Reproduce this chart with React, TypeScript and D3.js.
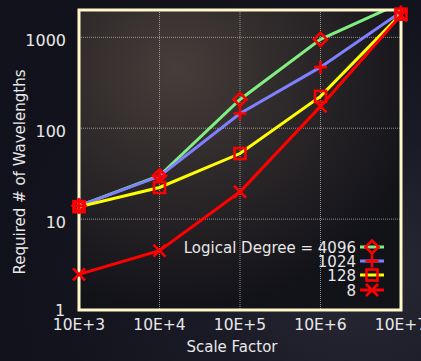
import React from "react";
import * as d3 from "d3";

const xValues = [1e3, 1e4, 1e5, 1e6, 1e7];
const xTickLabels = ["10E+3", "10E+4", "10E+5", "10E+6", "10E+7"];
const yTicks = [1, 10, 100, 1000];
const seriesNames = ["4096", "1024", "128", "8"];
const deg4096 = [14, 30, 207, 950, 2400];
const deg1024 = [14, 29.6, 145, 470, 1900];
const deg128 = [13.7, 22.3, 52.7, 224, 1800];
const deg8 = [2.47, 4.5, 20, 174, 1750];
const seriesColors = ["#80ee80", "#8080ff", "#ffff00", "#ff0000"];
const seriesMarkers = ["diamond", "plus", "square", "cross"];

const W = 421, H = 361;
const M = { left: 79, right: 401, top: 10, bottom: 310 };

function Marker({ type, x, y }: { type: string; x: number; y: number }) {
  const c = "#ff0000";
  const sw = 2.6;
  if (type === "diamond") {
    const r = 6.5;
    return <path d={`M${x},${y - r}L${x + r},${y}L${x},${y + r}L${x - r},${y}Z`} fill="none" stroke={c} strokeWidth={sw} />;
  }
  if (type === "plus") {
    const r = 6.5;
    return <path d={`M${x - r},${y}H${x + r}M${x},${y - r}V${y + r}`} stroke={c} strokeWidth={sw} />;
  }
  if (type === "square") {
    const r = 5.5;
    return <rect x={x - r} y={y - r} width={2 * r} height={2 * r} fill="none" stroke={c} strokeWidth={sw} />;
  }
  const r = 6;
  return <path d={`M${x - r},${y - r}L${x + r},${y + r}M${x - r},${y + r}L${x + r},${y - r}`} stroke={c} strokeWidth={sw} />;
}

export default function App() {
  const x = d3.scaleLog().domain([1e3, 1e7]).range([M.left, M.right]);
  const y = d3.scaleLog().domain([1, 2000]).range([M.bottom, M.top]);
  const data = [deg4096, deg1024, deg128, deg8];
  const line = d3.line<number>().x((_, i) => x(xValues[i])).y((d) => y(d));
  const font = "'DejaVu Sans', sans-serif";
  const textColor = "#e8e8e8";
  const legendY = [247, 261, 275, 290];

  return (
    <svg width={W} height={H} style={{ position: "absolute", left: 0, top: 0 }} fontFamily={font}>
      <defs>
        <radialGradient id="bg" cx="0.85" cy="0.75" r="0.8">
          <stop offset="0" stopColor="#2a2a36" />
          <stop offset="0.5" stopColor="#1a1a26" />
          <stop offset="1" stopColor="#12121c" />
        </radialGradient>
        <radialGradient id="plotbg" cx="0.3" cy="0.2" r="0.8">
          <stop offset="0" stopColor="#463e3a" />
          <stop offset="0.45" stopColor="#2e292a" />
          <stop offset="1" stopColor="#121219" />
        </radialGradient>
        <clipPath id="clip">
          <rect x={M.left} y={M.top} width={M.right - M.left} height={M.bottom - M.top} />
        </clipPath>
      </defs>
      <rect width={W} height={H} fill="url(#bg)" />
      <rect x={M.left} y={M.top} width={M.right - M.left} height={M.bottom - M.top} fill="url(#plotbg)" />
      {/* grid */}
      {yTicks.slice(1).map((t) => (
        <line key={"gy" + t} x1={M.left} x2={M.right} y1={y(t)} y2={y(t)} stroke="#b8b8b8" strokeOpacity={0.75} strokeWidth={1} strokeDasharray="1,1" />
      ))}
      {xValues.slice(1, 4).map((t) => (
        <line key={"gx" + t} x1={x(t)} x2={x(t)} y1={M.top} y2={M.bottom} stroke="#b8b8b8" strokeOpacity={0.75} strokeWidth={1} strokeDasharray="1,1" />
      ))}
      {/* lines */}
      <g clipPath="url(#clip)">
        {data.map((s, i) => (
          <path key={"l" + i} d={line(s) || ""} fill="none" stroke={seriesColors[i]} strokeWidth={3} />
        ))}
      </g>
      {/* frame */}
      <rect x={M.left} y={M.top} width={M.right - M.left} height={M.bottom - M.top} fill="none" stroke="#fff8c8" strokeWidth={3} />
      {/* markers */}
      {data.map((s, i) =>
        s.map((v, j) =>
          y(v) >= M.top - 1 ? <Marker key={"m" + i + "-" + j} type={seriesMarkers[i]} x={x(xValues[j])} y={y(v)} /> : null
        )
      )}
      {/* y ticks */}
      {yTicks.map((t) =>
        t === 1 ? (
          <text key={"yt" + t} x={60} y={316} textAnchor="middle" fill={textColor} fontSize={16}>
            {t}
          </text>
        ) : (
          <text key={"yt" + t} x={66} y={y(t) + 9} textAnchor="end" fill={textColor} fontSize={16}>
            {t}
          </text>
        )
      )}
      {/* x ticks */}
      {xValues.map((t, i) => (
        <text key={"xt" + t} x={x(t)} y={330} textAnchor="middle" fill={textColor} fontSize={15.5}>
          {xTickLabels[i]}
        </text>
      ))}
      <text x={232} y={352} textAnchor="middle" fill={textColor} fontSize={15}>Scale Factor</text>
      <text transform={`translate(25,172) rotate(-90)`} textAnchor="middle" fill={textColor} fontSize={15}>
        Required # of Wavelengths
      </text>
      {/* legend */}
      {seriesNames.map((n, i) => (
        <g key={"lg" + i}>
          <text x={356} y={legendY[i] + 5.5} textAnchor="end" fill={textColor} fontSize={15}>
            {i === 0 ? "Logical Degree = " + n : n}
          </text>
          <line x1={360} x2={384} y1={legendY[i]} y2={legendY[i]} stroke={seriesColors[i]} strokeWidth={3} />
          <Marker type={seriesMarkers[i]} x={372} y={legendY[i]} />
        </g>
      ))}
    </svg>
  );
}
